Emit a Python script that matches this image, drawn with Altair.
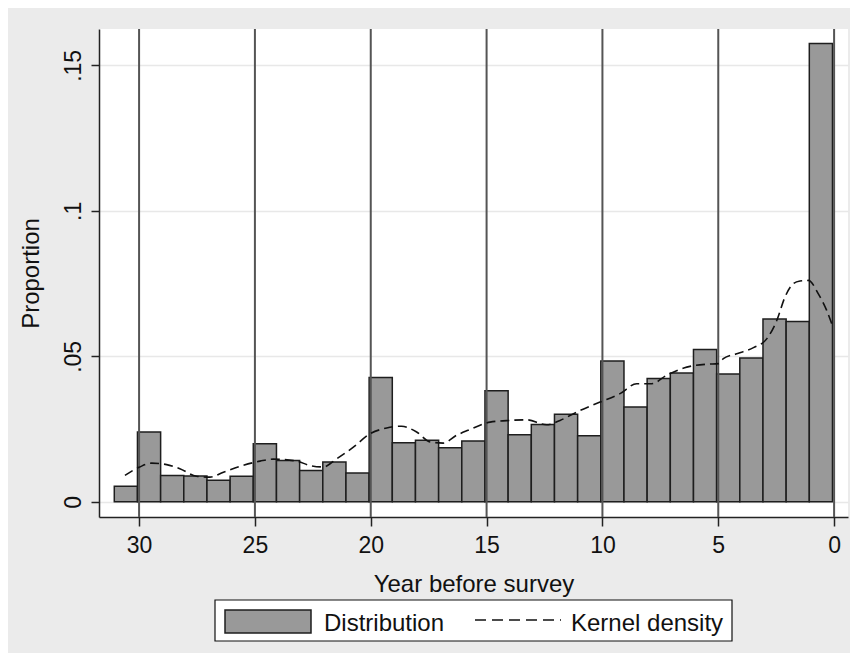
import altair as alt
import pandas as pd

# ---- data ----
years = list(range(30, -1, -1))  # leftmost bar = 30 years, rightmost = 0
proportions = [0.0054, 0.0240, 0.0091, 0.0089, 0.0074, 0.0088, 0.0200, 0.0142,
               0.0108, 0.0137, 0.0099, 0.0427, 0.0203, 0.0212, 0.0186, 0.0209,
               0.0382, 0.0231, 0.0266, 0.0301, 0.0227, 0.0484, 0.0326, 0.0424,
               0.0443, 0.0524, 0.0439, 0.0494, 0.0628, 0.0620, 0.1575]
bin_offset = 0.07

kd_x = [30.61, 29.97, 29.46, 28.81, 28.24, 27.52, 26.94, 26.36, 25.65, 24.78,
        24.21, 23.19, 22.63, 22.05, 21.47, 20.75, 20.03, 19.31, 18.67, 18.02,
        17.44, 16.87, 16.29, 15.80, 14.85, 13.99, 13.27, 12.41, 11.83, 10.97,
        10.10, 9.24, 8.52, 7.87, 7.23, 6.36, 5.50, 4.99, 4.78, 4.20,
        3.48, 2.90, 2.47, 2.12, 1.76, 1.47, 1.11, 0.68, 0.32, 0.10]
kd_y = [0.0091, 0.0120, 0.0133, 0.0128, 0.0114, 0.0088, 0.0085, 0.0102, 0.0122, 0.0140,
        0.0147, 0.0140, 0.0125, 0.0120, 0.0148, 0.0188, 0.0234, 0.0254, 0.0260, 0.0240,
        0.0206, 0.0202, 0.0229, 0.0246, 0.0274, 0.0280, 0.0282, 0.0265, 0.0280, 0.0314,
        0.0343, 0.0372, 0.0406, 0.0406, 0.0435, 0.0463, 0.0473, 0.0475, 0.0492, 0.0509,
        0.0530, 0.0561, 0.0624, 0.0704, 0.0750, 0.0759, 0.0761, 0.0715, 0.0658, 0.0612]

x_ticks = [30, 25, 20, 15, 10, 5, 0]
y_ticks = [0, 0.05, 0.1, 0.15]
xlines = [30, 25, 20, 15, 10, 5, 0]

FONT = "Liberation Sans"

bars_df = pd.DataFrame({
    "year": years,
    "lo": [y + bin_offset for y in years],
    "hi": [y + 1 + bin_offset for y in years],
    "p": proportions,
})
kd_df = pd.DataFrame({"x": kd_x, "y": kd_y, "i": list(range(len(kd_x)))})
lines_df = pd.DataFrame({"x": xlines})
one = pd.DataFrame({"k": [0]})

xscale = alt.Scale(domain=[-0.6, 31.73], reverse=True, nice=False, zero=False)
yscale = alt.Scale(domain=[-0.0052, 0.1625], nice=False, zero=False)

xaxis = alt.Axis(values=x_ticks, format="d", title="Year before survey", grid=False,
                 tickSize=9, labelPadding=8, titleY=74, titleBaseline="alphabetic",
                 labelFontSize=23, titleFontSize=24)
yaxis = alt.Axis(values=y_ticks, title="Proportion", grid=True, tickSize=8,
                 labelAngle=270, labelAlign="center", labelBaseline="alphabetic",
                 labelPadding=11,
                 labelExpr="datum.value == 0 ? '0' : replace(format(datum.value, '.2~f'), '0.', '.')",
                 titleX=-61, titleBaseline="alphabetic", titleAngle=270,
                 labelFontSize=23, titleFontSize=24)

bars = alt.Chart(bars_df).mark_rect(fill="#999999", stroke="#1e1e1e", strokeWidth=1.5).encode(
    x=alt.X("hi:Q", scale=xscale, axis=xaxis),
    x2="lo:Q",
    y=alt.Y("p:Q", scale=yscale, axis=yaxis),
    y2=alt.datum(0),
)

vlines = alt.Chart(lines_df).mark_rule(color="#555555", strokeWidth=2).encode(
    x=alt.X("x:Q", scale=xscale)
)

kd = alt.Chart(kd_df).mark_line(color="#111111", strokeWidth=1.6, strokeDash=[9, 5],
                                interpolate="monotone").encode(
    x=alt.X("x:Q", scale=xscale),
    y=alt.Y("y:Q", scale=yscale),
    order="i:Q",
)

# legend (drawn below the plot)
leg_box = alt.Chart(one).mark_rect(fill="white", stroke="#111111", strokeWidth=1.2).encode(
    x=alt.value(116), x2=alt.value(633), y=alt.value(571), y2=alt.value(612))
leg_swatch = alt.Chart(one).mark_rect(fill="#999999", stroke="#1e1e1e", strokeWidth=1.5).encode(
    x=alt.value(126), x2=alt.value(212), y=alt.value(581), y2=alt.value(604))
leg_t1 = alt.Chart(one).mark_text(align="left", baseline="alphabetic", font=FONT,
                                  fontSize=24, color="#111111").encode(
    x=alt.value(225), y=alt.value(602), text=alt.value("Distribution"))
leg_dash = alt.Chart(one).mark_rule(color="#111111", strokeWidth=1.6, strokeDash=[11, 6]).encode(
    x=alt.value(376), x2=alt.value(462), y=alt.value(591))
leg_t2 = alt.Chart(one).mark_text(align="left", baseline="alphabetic", font=FONT,
                                  fontSize=24, color="#111111").encode(
    x=alt.value(472), y=alt.value(602), text=alt.value("Kernel density"))

chart = alt.layer(bars, vlines, kd, leg_box, leg_swatch, leg_t1, leg_dash, leg_t2).properties(
    width=749, height=488,
    padding={"left": 91, "top": 21, "right": 2, "bottom": 136},
    autosize=alt.AutoSizeParams(type="none"),
    background="#ebebeb",
).configure_view(fill="white", stroke=None).configure_axis(
    labelFont=FONT, titleFont=FONT, labelColor="#111111", titleColor="#111111",
    titleFontWeight="normal", domainColor="#222222", domainWidth=1.5,
    tickColor="#222222", tickWidth=1.5, gridColor="#e8e8e8", gridWidth=1.5,
)

chart.save("out.html", embed_options={"renderer": "svg", "actions": False})
